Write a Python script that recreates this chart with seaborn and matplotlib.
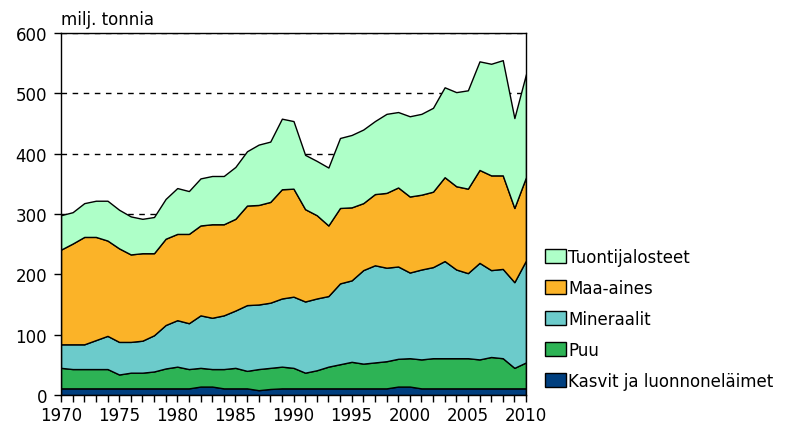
import numpy as np
import pandas as pd
import matplotlib
matplotlib.use("Agg")
import matplotlib.pyplot as plt
from matplotlib.ticker import MultipleLocator
from matplotlib.patches import Patch
import seaborn as sns

# vuodet ja sarjat (milj. tonnia)
years = list(range(1970, 2011))

kasvit = [11] * 12 + [14, 14, 11, 11, 11, 8, 10] + [11] * 10 + [14, 14] + [11] * 10
puu = [34, 32, 32, 32, 32, 23, 26, 26, 28, 33, 36, 32, 31, 29, 32, 34, 29, 35, 35, 36,
       34, 26, 30, 36, 40, 44, 41, 43, 45, 46, 47, 48, 50, 50, 50, 50, 48, 52, 50, 34, 43]
mineraalit = [39, 41, 41, 48, 55, 54, 51, 53, 60, 72, 77, 76, 87, 85, 89, 95, 109, 107, 108, 113,
              118, 118, 119, 117, 134, 135, 155, 161, 155, 153, 142, 149, 151, 161, 147, 141, 160, 144, 148, 142, 169]
maa_aines = [157, 167, 178, 171, 158, 155, 145, 145, 136, 143, 143, 148, 149, 155, 151, 152, 165, 165, 167, 181,
             179, 153, 138, 117, 125, 121, 111, 118, 124, 131, 126, 124, 125, 139, 138, 140, 154, 157, 155, 123, 138]
tuonti = [57, 52, 56, 60, 66, 64, 63, 57, 60, 66, 76, 71, 78, 80, 80, 86, 90, 100, 100, 117,
          112, 90, 90, 96, 116, 120, 122, 121, 131, 125, 133, 134, 139, 149, 156, 163, 180, 185, 191, 149, 171]

labels = ["Kasvit ja luonnoneläimet", "Puu", "Mineraalit", "Maa-aines", "Tuontijalosteet"]
colors = ["#003f7f", "#2db355", "#6ccbcb", "#fbb328", "#aeffc8"]

df = pd.DataFrame({"vuosi": years, labels[0]: kasvit, labels[1]: puu, labels[2]: mineraalit,
                   labels[3]: maa_aines, labels[4]: tuonti})

sns.set_style("white")
plt.rcParams['font.family'] = ['DejaVu Sans']
plt.rcParams['text.color'] = 'black'
plt.rcParams['xtick.color'] = 'black'
plt.rcParams['ytick.color'] = 'black'

fig = plt.figure(figsize=(7.88, 4.27), dpi=100)
ax = fig.add_axes([61 / 788, 1 - 396 / 427, (526 - 61) / 788, (396 - 34) / 427])

ax.stackplot(df["vuosi"], [df[c] for c in labels], colors=colors,
             edgecolor="black", linewidth=1.0, zorder=2)

# katkoviivaruudukko
ax.set_axisbelow(True)
ax.yaxis.grid(True, linestyle=(0, (4, 4)), color="black", linewidth=1)
ax.xaxis.grid(False)

ax.set_xlim(1970, 2010)
ax.set_ylim(0, 600)
ax.xaxis.set_major_locator(MultipleLocator(5))
ax.xaxis.set_minor_locator(MultipleLocator(1))
ax.yaxis.set_major_locator(MultipleLocator(100))
ax.tick_params(axis="both", which="both", direction="out", length=5, width=1,
               color="black", labelcolor="black", labelsize=12, bottom=True, left=True)
ax.tick_params(axis="x", pad=3)
ax.tick_params(axis="y", pad=5)
for s in ax.spines.values():
    s.set_visible(True)
    s.set_color("black")
    s.set_linewidth(1)

fig.text(61 / 788, 1 - 20 / 427, "milj. tonnia", fontsize=12, ha="left", va="center")

handles = [Patch(facecolor=c, edgecolor="black", linewidth=1) for c in colors][::-1]
fig.legend(handles, labels[::-1], loc="center left", bbox_to_anchor=(538 / 788, 1 - 320 / 427),
           frameon=False, fontsize=12, handlelength=1.3, handleheight=0.9, handletextpad=0.1,
           labelspacing=0.78, borderaxespad=0)

fig.savefig("out.png", dpi=100)
